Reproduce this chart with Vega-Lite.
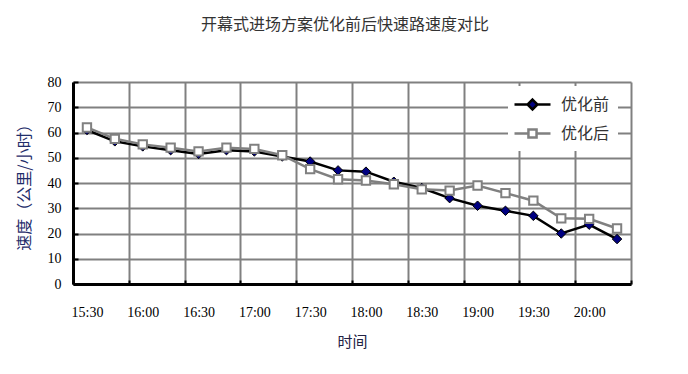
{
  "$schema": "https://vega.github.io/schema/vega-lite/v6.json",
  "width": 558,
  "height": 202,
  "autosize": "none",
  "padding": {"left": 73, "top": 82, "right": 57, "bottom": 90},
  "background": "white",
  "title": {"text": "开幕式进场方案优化前后快速路速度对比", "font": "Noto Sans CJK SC", "fontSize": 16, "fontWeight": "normal", "color": "#333333", "offset": 42, "dx": -7},
  "data": {"values": [
    {"t": "2020-01-01T15:30:00", "s": "优化前", "v": 61},
    {"t": "2020-01-01T15:45:00", "s": "优化前", "v": 56.5},
    {"t": "2020-01-01T16:00:00", "s": "优化前", "v": 54.5},
    {"t": "2020-01-01T16:15:00", "s": "优化前", "v": 53},
    {"t": "2020-01-01T16:30:00", "s": "优化前", "v": 51.5},
    {"t": "2020-01-01T16:45:00", "s": "优化前", "v": 53},
    {"t": "2020-01-01T17:00:00", "s": "优化前", "v": 52.5},
    {"t": "2020-01-01T17:15:00", "s": "优化前", "v": 50.5},
    {"t": "2020-01-01T17:30:00", "s": "优化前", "v": 48.5},
    {"t": "2020-01-01T17:45:00", "s": "优化前", "v": 45},
    {"t": "2020-01-01T18:00:00", "s": "优化前", "v": 44.5},
    {"t": "2020-01-01T18:15:00", "s": "优化前", "v": 40.5},
    {"t": "2020-01-01T18:30:00", "s": "优化前", "v": 38},
    {"t": "2020-01-01T18:45:00", "s": "优化前", "v": 34},
    {"t": "2020-01-01T19:00:00", "s": "优化前", "v": 31},
    {"t": "2020-01-01T19:15:00", "s": "优化前", "v": 29},
    {"t": "2020-01-01T19:30:00", "s": "优化前", "v": 27},
    {"t": "2020-01-01T19:45:00", "s": "优化前", "v": 20},
    {"t": "2020-01-01T20:00:00", "s": "优化前", "v": 23.5},
    {"t": "2020-01-01T20:15:00", "s": "优化前", "v": 17.8},
    {"t": "2020-01-01T15:30:00", "s": "优化后", "v": 62},
    {"t": "2020-01-01T15:45:00", "s": "优化后", "v": 57.5},
    {"t": "2020-01-01T16:00:00", "s": "优化后", "v": 55.3},
    {"t": "2020-01-01T16:15:00", "s": "优化后", "v": 54},
    {"t": "2020-01-01T16:30:00", "s": "优化后", "v": 52.5},
    {"t": "2020-01-01T16:45:00", "s": "优化后", "v": 54},
    {"t": "2020-01-01T17:00:00", "s": "优化后", "v": 53.5},
    {"t": "2020-01-01T17:15:00", "s": "优化后", "v": 51},
    {"t": "2020-01-01T17:30:00", "s": "优化后", "v": 45.5},
    {"t": "2020-01-01T17:45:00", "s": "优化后", "v": 41.5},
    {"t": "2020-01-01T18:00:00", "s": "优化后", "v": 41},
    {"t": "2020-01-01T18:15:00", "s": "优化后", "v": 39.5},
    {"t": "2020-01-01T18:30:00", "s": "优化后", "v": 37.5},
    {"t": "2020-01-01T18:45:00", "s": "优化后", "v": 37},
    {"t": "2020-01-01T19:00:00", "s": "优化后", "v": 39},
    {"t": "2020-01-01T19:15:00", "s": "优化后", "v": 36},
    {"t": "2020-01-01T19:30:00", "s": "优化后", "v": 33},
    {"t": "2020-01-01T19:45:00", "s": "优化后", "v": 26},
    {"t": "2020-01-01T20:00:00", "s": "优化后", "v": 25.8},
    {"t": "2020-01-01T20:15:00", "s": "优化后", "v": 22}
  ]},
  "encoding": {
    "x": {
      "field": "t", "type": "temporal",
      "scale": {"domain": [
        {"year": 2020, "month": 1, "date": 1, "hours": 15, "minutes": 22, "seconds": 30},
        {"year": 2020, "month": 1, "date": 1, "hours": 20, "minutes": 22, "seconds": 30}
      ]},
      "axis": {
        "values": [
          {"year": 2020, "month": 1, "date": 1, "hours": 15, "minutes": 22, "seconds": 30},
          {"year": 2020, "month": 1, "date": 1, "hours": 15, "minutes": 52, "seconds": 30},
          {"year": 2020, "month": 1, "date": 1, "hours": 16, "minutes": 22, "seconds": 30},
          {"year": 2020, "month": 1, "date": 1, "hours": 16, "minutes": 52, "seconds": 30},
          {"year": 2020, "month": 1, "date": 1, "hours": 17, "minutes": 22, "seconds": 30},
          {"year": 2020, "month": 1, "date": 1, "hours": 17, "minutes": 52, "seconds": 30},
          {"year": 2020, "month": 1, "date": 1, "hours": 18, "minutes": 22, "seconds": 30},
          {"year": 2020, "month": 1, "date": 1, "hours": 18, "minutes": 52, "seconds": 30},
          {"year": 2020, "month": 1, "date": 1, "hours": 19, "minutes": 22, "seconds": 30},
          {"year": 2020, "month": 1, "date": 1, "hours": 19, "minutes": 52, "seconds": 30},
          {"year": 2020, "month": 1, "date": 1, "hours": 20, "minutes": 22, "seconds": 30}
        ],
        "labelExpr": "time(datum.value) >= time(datetime(2020,0,1,20,20,0)) ? '' : timeFormat(time(datum.value) + 450000, '%H:%M')",
        "labelOffset": 14,
        "labelPadding": 25,
        "labelFont": "Liberation Serif",
        "labelFontSize": 14,
        "labelColor": "#000000",
        "labelFlush": false,
        "labelOverlap": false,
        "grid": true,
        "gridColor": "#808080",
        "gridWidth": 2,
        "gridOpacity": 1,
        "domainColor": "#000000",
        "domainWidth": 3,
        "tickColor": "#000000",
        "tickWidth": 2,
        "tickSize": -4,
        "title": "时间",
        "titleFont": "Noto Sans CJK SC",
        "titleFontSize": 15,
        "titleFontWeight": "normal",
        "titleColor": "#222244",
        "titlePadding": 15
      }
    },
    "y": {
      "field": "v", "type": "quantitative",
      "scale": {"domain": [0, 80]},
      "axis": {
        "values": [0, 10, 20, 30, 40, 50, 60, 70, 80],
        "labelFont": "Liberation Serif",
        "labelFontSize": 14,
        "labelColor": "#000000",
        "labelPadding": 17,
        "grid": true,
        "gridColor": "#808080",
        "gridWidth": 2,
        "gridOpacity": 1,
        "domainColor": "#000000",
        "domainWidth": 3,
        "tickColor": "#000000",
        "tickWidth": 2,
        "tickSize": -5,
        "title": "速度（公里/小时）",
        "titleFont": "Noto Sans CJK SC",
        "titleFontSize": 16,
        "titleFontWeight": "normal",
        "titleColor": "#1F2D6B",
        "titlePadding": 15
      }
    }
  },
  "layer": [
    {
      "mark": {"type": "line", "strokeWidth": 2.5},
      "encoding": {
        "stroke": {
          "field": "s", "type": "nominal",
          "scale": {"domain": ["优化前", "优化后"], "range": ["#000000", "#808080"]},
          "legend": {
            "title": null,
            "orient": "none",
            "legendX": 435,
            "legendY": 4,
            "fillColor": "#ffffff",
            "padding": 8,
            "symbolSize": 324,
            "symbolOffset": 6,
            "symbolStrokeWidth": 2.5,
            "labelOffset": 18,
            "rowPadding": 8,
            "labelFont": "Noto Sans CJK SC",
            "labelFontSize": 16,
            "labelColor": "#333333",
            "encode": {"symbols": {"update": {
              "shape": {"signal": "datum.value === '优化前' ? 'M-2,0H-0.55M0.55,0H2M0,-0.55L0.55,0L0,0.55L-0.55,0Z' : 'M-2,0H-0.45M0.45,0H2M-0.45,-0.45H0.45V0.45H-0.45Z'"},
              "fill": {"signal": "datum.value === '优化前' ? '#000080' : '#ffffff'"}
            }}}
          }
        }
      }
    },
    {
      "transform": [{"filter": "datum.s === '优化前'"}],
      "mark": {"type": "point", "shape": "diamond", "filled": true, "size": 90, "fill": "#000080", "stroke": "#000000", "strokeWidth": 1, "opacity": 1}
    },
    {
      "transform": [{"filter": "datum.s === '优化后'"}],
      "mark": {"type": "point", "shape": "square", "filled": true, "size": 70, "fill": "#ffffff", "stroke": "#808080", "strokeWidth": 2, "opacity": 1}
    }
  ],
  "config": {"view": {"stroke": null}}
}
